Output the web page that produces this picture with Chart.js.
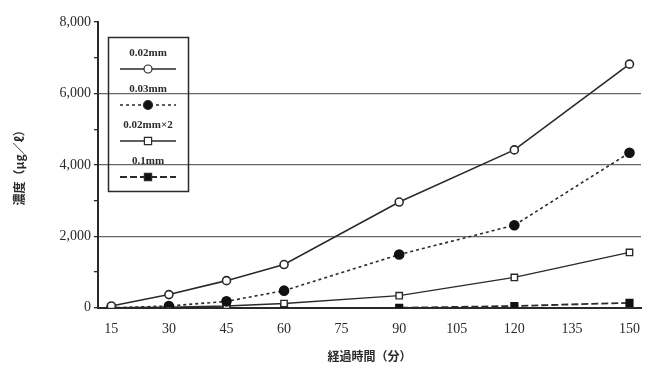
<!DOCTYPE html>
<html>
<head>
<meta charset="utf-8">
<script src="https://cdn.jsdelivr.net/npm/chart.js@4"></script>
<style>
  body { margin: 0; background: #fff; }
  #wrap { width: 651px; height: 367px; }
</style>
</head>
<body>
<div id="wrap"><canvas id="concChart" width="651" height="367"></canvas></div>
<script>
// elapsed time (min)
const minutes = [15, 30, 45, 60, 90, 120, 150]
const xTicks = [15, 30, 45, 60, 75, 90, 105, 120, 135, 150]
const yTicks = [0, 2000, 4000, 6000, 8000]

const labels = ['0.02mm', '0.03mm', '0.02mm×2', '0.1mm']
const s002 = [50, 370, 760, 1210, 2960, 4420, 6820]
const s003 = [0, 50, 180, 480, 1490, 2310, 4340]
const s002x2 = [0, 20, 50, 120, 340, 850, 1550]
const s01 = [0, 0, 0, 0, 0, 50, 140]

const ink = '#2a2a2a'
const serif = "'Liberation Serif', 'DejaVu Serif', serif"
const cjk = "'Noto Sans CJK JP', sans-serif"

const toXY = vals => vals.map((v, i) => ({ x: minutes[i], y: v }))

// legend drawn like the original: text above a sample line in a box
const boxLegend = {
    id: 'boxLegend',
    afterDraw(chart) {
        const ctx = chart.ctx
        const left = 108, top = 37, w = 80, h = 154
        ctx.save()
        ctx.strokeStyle = ink
        ctx.lineWidth = 1.5
        ctx.strokeRect(left + 0.5, top + 0.5, w, h)
        ctx.fillStyle = ink
        ctx.textAlign = 'center'
        ctx.textBaseline = 'middle'
        ctx.font = 'bold 11px ' + serif
        chart.data.datasets.forEach((ds, i) => {
            const y = top + 16 + i * 36
            const cx = left + w / 2
            ctx.fillStyle = ink
            ctx.fillText(ds.label, cx, y)
            ctx.beginPath()
            ctx.setLineDash(ds.borderDash || [])
            ctx.lineWidth = ds.borderWidth
            ctx.moveTo(left + 12, y + 16)
            ctx.lineTo(left + w - 12, y + 16)
            ctx.stroke()
            ctx.setLineDash([])
            ctx.lineWidth = 1.2
            ctx.fillStyle = ds.pointBackgroundColor
            ctx.beginPath()
            if (ds.pointStyle === 'rect') {
                ctx.rect(cx - ds.pointRadius * 0.8, y + 16 - ds.pointRadius * 0.8, ds.pointRadius * 1.6, ds.pointRadius * 1.6)
            } else {
                ctx.arc(cx, y + 16, ds.pointRadius, 0, Math.PI * 2)
            }
            ctx.fill()
            ctx.stroke()
        })
        ctx.restore()
    }
}

const ctx = document.getElementById('concChart').getContext('2d')
new Chart(ctx, {
    type: 'line',
    data: {
        datasets: [{
            label: labels[0],
            data: toXY(s002),
            borderColor: ink,
            borderWidth: 1.6,
            pointStyle: 'circle',
            pointRadius: 4,
            pointBackgroundColor: '#fff',
            pointBorderColor: ink
        }, {
            label: labels[1],
            data: toXY(s003),
            borderColor: ink,
            borderWidth: 1.6,
            borderDash: [3, 3],
            pointStyle: 'circle',
            pointRadius: 4.5,
            pointBackgroundColor: '#111',
            pointBorderColor: '#111'
        }, {
            label: labels[2],
            data: toXY(s002x2),
            borderColor: ink,
            borderWidth: 1.4,
            pointStyle: 'rect',
            pointRadius: 4.5,
            pointBackgroundColor: '#fff',
            pointBorderColor: ink
        }, {
            label: labels[3],
            data: toXY(s01),
            borderColor: ink,
            borderWidth: 1.8,
            borderDash: [7, 3],
            pointStyle: 'rect',
            pointRadius: 4.5,
            pointBackgroundColor: '#111',
            pointBorderColor: '#111'
        }]
    },
    options: {
        responsive: false,
        animation: false,
        layout: { padding: { top: 22, right: 10, left: 8, bottom: 3 } },
        plugins: {
            legend: { display: false },
            tooltip: { enabled: false }
        },
        elements: { line: { tension: 0 } },
        scales: {
            x: {
                type: 'linear',
                min: 11.5,
                max: 153,
                afterBuildTicks: axis => { axis.ticks = xTicks.map(v => ({ value: v })) },
                grid: { display: false },
                border: { display: true, color: ink, width: 2 },
                ticks: { color: ink, font: { family: serif, size: 14 }, padding: 5 },
                title: {
                    display: true,
                    text: '経過時間（分）',
                    color: ink,
                    font: { family: cjk, size: 12, weight: 'bold' },
                    padding: { top: 7, bottom: 0 }
                }
            },
            y: {
                min: 0,
                max: 8000,
                ticks: {
                    stepSize: 500,
                    color: ink,
                    font: { family: serif, size: 14 },
                    callback: v => yTicks.includes(v) ? v.toLocaleString('en-US') : ''
                },
                grid: {
                    color: c => (c.tick && c.tick.value > 0 && c.tick.value < 8000 && c.tick.value % 2000 === 0) ? '#666' : 'transparent',
                    tickColor: ink,
                    tickLength: 4,
                    lineWidth: 1.3
                },
                border: { display: true, color: ink, width: 2 },
                title: {
                    display: true,
                    text: '濃度（μg／ℓ）',
                    color: ink,
                    font: { family: cjk, size: 12, weight: 'bold' },
                    padding: { top: 4, bottom: 30 }
                }
            }
        }
    },
    plugins: [boxLegend]
})
</script>
</body>
</html>
